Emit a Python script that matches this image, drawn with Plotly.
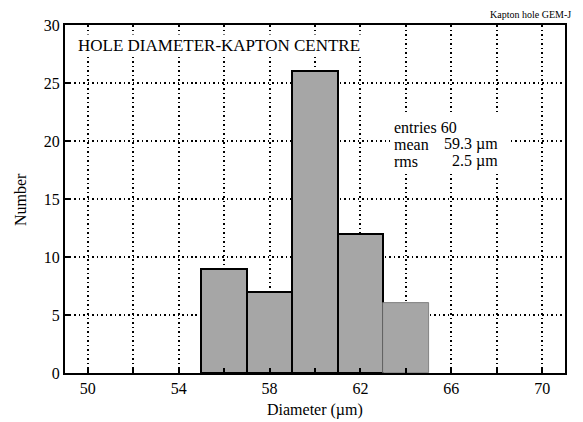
import plotly.graph_objects as go

# Data
bin_left = [55, 57, 59, 61, 63]
bin_width = 2
counts = [9, 7, 26, 12, 6]
outlined = [True, True, True, True, False]
x_tick_vals = [50, 54, 58, 62, 66, 70]
y_tick_vals = [0, 5, 10, 15, 20, 25, 30]
title_text = "HOLE DIAMETER-KAPTON CENTRE"
corner_text = "Kapton hole GEM-J"
x_title = "Diameter (µm)"
y_title = "Number"
stat_labels = ["entries 60", "mean", "rms"]
stat_values = ["", "59.3 µm", "2.5 µm"]

centers = [b + bin_width / 2 for b in bin_left]
FONT = "Liberation Serif"
L, R, T, B = 65, 18, 25, 49
PW, PH = 583 - L - R, 422 - T - B


def px(x):
    return (x - L) / PW


def py(y):
    return (422 - B - y) / PH


fig = go.Figure()
fig.add_trace(go.Bar(
    x=centers,
    y=counts,
    width=[bin_width] * len(counts),
    marker=dict(
        color="#a6a6a6",
        line=dict(color=["black" if o else "#707070" for o in outlined],
                  width=[2 if o else 0.8 for o in outlined]),
    ),
    showlegend=False,
))

grid = dict(showgrid=True, gridcolor="black", griddash="1.5px,3px", gridwidth=1.5)

fig.update_layout(
    width=583, height=422,
    margin=dict(l=L, r=R, t=T, b=B, autoexpand=False),
    paper_bgcolor="white", plot_bgcolor="white",
    font=dict(family=FONT, size=16, color="black"),
    bargap=0,
    xaxis=dict(
        range=[49, 71], tickvals=x_tick_vals, automargin=False,
        ticks="inside", ticklen=5, tickwidth=1.5, tickcolor="black",
        showline=True, linecolor="black", linewidth=2, mirror=True,
        minor=dict(dtick=2, tick0=50, ticks="inside", ticklen=5, tickwidth=1.5,
                   tickcolor="black", **grid),
        zeroline=False, layer="above traces",
        tickfont=dict(size=16), **grid,
    ),
    yaxis=dict(
        range=[0, 30], tickvals=y_tick_vals, automargin=False,
        ticks="inside", ticklen=6, tickwidth=1.5, tickcolor="black",
        showline=True, linecolor="black", linewidth=2, mirror=True,
        zeroline=False, layer="above traces",
        tickfont=dict(size=16), **grid,
    ),
)

# axis titles
fig.add_annotation(text=x_title, xref="paper", yref="paper",
                   x=px(315), y=py(410), xanchor="center", yanchor="middle",
                   showarrow=False, font=dict(size=16))
fig.add_annotation(text=y_title, xref="paper", yref="paper",
                   x=px(20), y=py(200), xanchor="center", yanchor="middle",
                   textangle=-90, showarrow=False, font=dict(size=16))

# white background box behind statistics
fig.add_shape(type="rect", xref="paper", yref="paper",
              x0=px(390), x1=px(508), y0=py(172), y1=py(114),
              fillcolor="white", line=dict(width=0), layer="above")

fig.add_annotation(text=title_text, xref="paper", yref="paper",
                   x=px(76), y=py(45),
                   xanchor="left", yanchor="middle", showarrow=False,
                   bgcolor="white", font=dict(size=17), borderpad=1)
fig.add_annotation(text=corner_text, xref="paper", yref="paper",
                   x=px(573), y=py(15),
                   xanchor="right", yanchor="middle", showarrow=False,
                   font=dict(size=10))

line_y = [127, 144, 161]
for lab, val, yy in zip(stat_labels, stat_values, line_y):
    fig.add_annotation(text=lab, xref="paper", yref="paper",
                       x=px(392), y=py(yy),
                       xanchor="left", yanchor="middle", showarrow=False,
                       font=dict(size=16))
    if val:
        fig.add_annotation(text=val, xref="paper", yref="paper",
                           x=px(500), y=py(yy),
                           xanchor="right", yanchor="middle", showarrow=False,
                           font=dict(size=16))

fig.write_html("out.html", config={"displayModeBar": False},
               post_script="document.body.style.margin='0';")
